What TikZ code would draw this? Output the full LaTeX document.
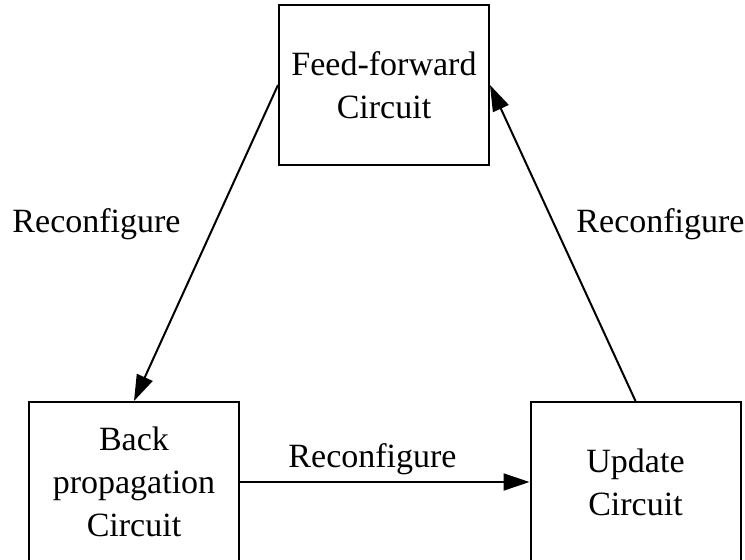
\documentclass[tikz,border=0pt]{standalone}
\usepackage{fontspec}
\setmainfont{Liberation Serif}
\usepackage{tikz}
\usetikzlibrary{positioning}
\usetikzlibrary{arrows.meta}

\begin{document}
\begin{tikzpicture}[x=1pt, y=-1pt, line width=2pt,
    every node/.style={font=\fontsize{34}{43}\selectfont},
    block/.style={draw, align=center, minimum width=210pt, minimum height=160pt, inner sep=0pt},
    lbl/.style={anchor=base}]
  \useasboundingbox (0,0) rectangle (745,560);
  % the three circuits
  \node[block] (FF) at (384,85) {Feed-forward\\Circuit};
  \node[block] (BP) at (134,482) {Back\\propagation\\Circuit};
  \node[block] (UP) at (635.5,482) {Update\\Circuit};
  % reconfiguration steps
  \draw (FF.west) edge[->, >={Triangle[length=26pt, width=17pt]}] (BP.north);
  \draw (BP.east) edge[->, >={Triangle[length=26pt, width=17pt]}] (UP.west);
  \draw (UP.north) edge[->, >={Triangle[length=26pt, width=17pt]}] (FF.east);
  \node[lbl] (RL) at (96.5,232) {Reconfigure};
  \node[lbl] (RR) at (660.5,232) {Reconfigure};
  \node[lbl] (RB) at (372.5,467) {Reconfigure};
\end{tikzpicture}
\end{document}
